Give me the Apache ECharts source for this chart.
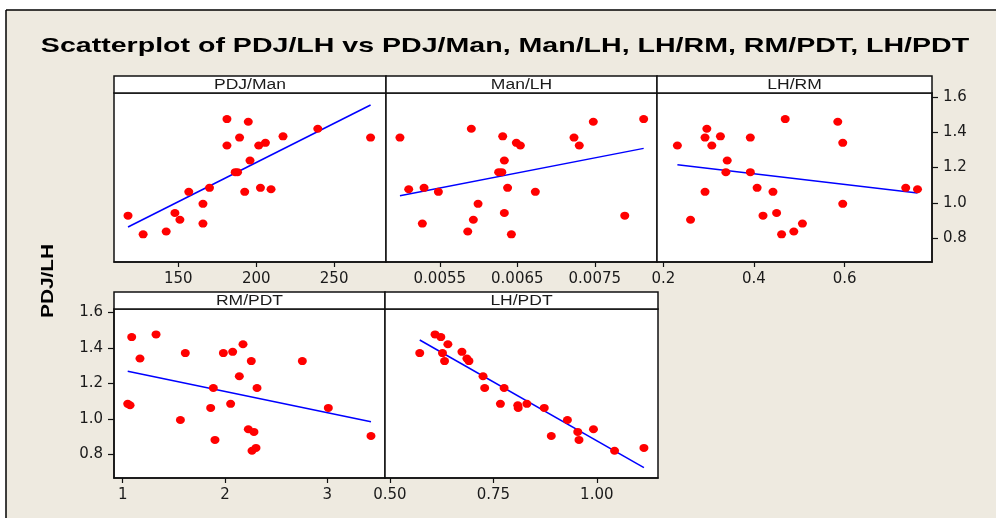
<!DOCTYPE html>
<html>
<head>
<meta charset="utf-8">
<script src="https://cdn.jsdelivr.net/npm/echarts@6/dist/echarts.min.js"></script>
<style>
  html, body { margin: 0; padding: 0; background: #fff; }
  #main { width: 996px; height: 518px; }
</style>
</head>
<body>
<div id="main"></div>
<script>
// PDJ/LH (shared y) and the five predictors, one entry per observation
var pdjLh  = [1.475, 1.460, 1.420, 1.377, 1.370, 1.370, 1.340, 1.325, 1.325, 1.240, 1.174, 1.174,
              1.085, 1.085, 1.077, 1.062, 1.062, 0.994, 0.942, 0.927, 0.904, 0.882, 0.837, 0.821];
var pdjMan = [181.2, 194.9, 239.5, 217.2, 189.3, 273.4, 205.9, 181.2, 201.6, 196.0, 186.5, 188.0,
              170.0, 202.7, 209.5, 156.7, 192.6, 165.8, 147.8, 117.7, 151.0, 165.8, 142.2, 127.4];
var manLh  = [0.008131, 0.007481, 0.005907, 0.006312, 0.004986, 0.007232, 0.006488, 0.006540, 0.007300, 0.006333, 0.006260, 0.006300,
              0.005297, 0.006375, 0.005099, 0.005482, 0.006733, 0.005994, 0.006333, 0.007887, 0.005933, 0.005275, 0.005861, 0.006424];
var lhRm   = [0.469, 0.585, 0.296, 0.326, 0.292, 0.392, 0.596, 0.231, 0.307, 0.341, 0.338, 0.392,
              0.407, 0.735, 0.761, 0.292, 0.442, 0.596, 0.450, 0.420, 0.260, 0.507, 0.488, 0.461];
var rmPdt  = [1.326, 1.088, 2.176, 2.075, 1.612, 1.984, 1.169, 2.257, 2.756, 2.140, 1.886, 2.313,
              1.049, 2.055, 1.072, 1.860, 3.010, 1.564, 2.228, 2.283, 3.427, 1.902, 2.303, 2.264];
var lhPdt  = [0.609, 0.623, 0.640, 0.674, 0.572, 0.627, 0.686, 0.691, 0.632, 0.725, 0.729, 0.776,
              0.767, 0.831, 0.809, 0.810, 0.873, 0.929, 0.992, 0.954, 0.890, 0.957, 1.114, 1.043];

var panelNames = ['PDJ/Man', 'Man/LH', 'LH/RM', 'RM/PDT', 'LH/PDT'];
var panelX = [pdjMan, manLh, lhRm, rmPdt, lhPdt];
var xTicks = [[150, 200, 250], [0.0055, 0.0065, 0.0075], [0.2, 0.4, 0.6], [1, 2, 3], [0.5, 0.75, 1.0]];
var xDecimals = [0, 4, 1, 0, 2];
var yTicks = [0.8, 1.0, 1.2, 1.4, 1.6];

// axis extents of each panel
var xRanges = [[108.7, 283.3], [0.004806, 0.008303], [0.186, 0.793], [0.915, 3.564], [0.488, 1.148]];
var yRanges = [[0.664, 1.623], [0.664, 1.623], [0.664, 1.623], [0.668, 1.618], [0.668, 1.618]];

// panel boxes (plot area, header strip sits above)
var boxes = [
    { left: 114, top: 93,  width: 272, height: 169 },
    { left: 386, top: 93,  width: 271, height: 169 },
    { left: 657, top: 93,  width: 275, height: 169 },
    { left: 114, top: 309, width: 271, height: 169 },
    { left: 385, top: 309, width: 273, height: 169 }
];
var headerH = 17;

var labelFont = { color: '#1a1a1a', fontFamily: 'DejaVu Sans', fontSize: 15 };

function fitLine(xs, ys) {
    var n = xs.length, sx = 0, sy = 0, sxx = 0, sxy = 0;
    for (var i = 0; i < n; i++) {
        sx += xs[i]; sy += ys[i]; sxx += xs[i] * xs[i]; sxy += xs[i] * ys[i];
    }
    var b = (n * sxy - sx * sy) / (n * sxx - sx * sx);
    var a = (sy - b * sx) / n;
    var lo = Math.min.apply(null, xs), hi = Math.max.apply(null, xs);
    return [[lo, a + b * lo], [hi, a + b * hi]];
}

var grids = [], xAxes = [], yAxes = [], series = [];
var graphics = [
    // white margin and frame of the beige plot window
    { type: 'rect', shape: { x: 0, y: 0, width: 996, height: 10 }, style: { fill: '#fff' } },
    { type: 'rect', shape: { x: 0, y: 0, width: 6, height: 518 }, style: { fill: '#fff' } },
    { type: 'line', shape: { x1: 6, y1: 10, x2: 996, y2: 10 }, style: { stroke: '#000', lineWidth: 1.5 } },
    { type: 'line', shape: { x1: 6, y1: 10, x2: 6, y2: 518 }, style: { stroke: '#000', lineWidth: 1.5 } },
    {
        type: 'text', x: 505, y: 46, scaleX: 1.36,
        style: {
            text: 'Scatterplot of PDJ/LH vs PDJ/Man, Man/LH, LH/RM, RM/PDT, LH/PDT',
            font: 'bold 21px "Liberation Sans"', fill: '#000',
            textAlign: 'center', textVerticalAlign: 'middle'
        }
    },
    {
        type: 'text', x: 49, y: 281, rotation: Math.PI / 2, scaleX: 1.3,
        style: {
            text: 'PDJ/LH', font: 'bold 16px "Liberation Sans"', fill: '#000',
            textAlign: 'center', textVerticalAlign: 'middle'
        }
    }
];

for (var p = 0; p < 5; p++) {
    var bx = boxes[p];
    grids.push({
        left: bx.left, top: bx.top, width: bx.width, height: bx.height,
        show: true, backgroundColor: '#fff', borderColor: '#111', borderWidth: 1.5
    });
    (function (dec) {
        xAxes.push({
            type: 'value', gridIndex: p, position: 'bottom',
            min: xRanges[p][0], max: xRanges[p][1],
            axisLine: { show: true, onZero: false, lineStyle: { color: '#111', width: 1.5 } },
            axisTick: { show: true, inside: false, length: 5, customValues: xTicks[p], lineStyle: { color: '#111', width: 1.2 } },
            axisLabel: Object.assign({ show: true, margin: 10, customValues: xTicks[p],
                formatter: function (v) { return Number(v).toFixed(dec); } }, labelFont),
            splitLine: { show: false }
        });
    })(xDecimals[p]);

    var showY = (p === 2 || p === 3);
    yAxes.push({
        type: 'value', gridIndex: p, position: p === 2 ? 'right' : 'left',
        min: yRanges[p][0], max: yRanges[p][1],
        axisLine: { show: showY, onZero: false, lineStyle: { color: '#111', width: 1.5 } },
        axisTick: { show: showY, inside: false, length: 6, customValues: yTicks, lineStyle: { color: '#111', width: 1.2 } },
        axisLabel: Object.assign({ show: showY, margin: 11, customValues: yTicks,
            formatter: function (v) { return Number(v).toFixed(1); } }, labelFont),
        splitLine: { show: false }
    });

    var pts = [];
    for (var i = 0; i < pdjLh.length; i++) pts.push([panelX[p][i], pdjLh[i]]);
    series.push({
        type: 'line', xAxisIndex: p, yAxisIndex: p,
        data: fitLine(panelX[p], pdjLh), showSymbol: false, silent: true,
        lineStyle: { color: '#0000ff', width: 1.5 }, z: 2
    });
    series.push({
        type: 'scatter', xAxisIndex: p, yAxisIndex: p, data: pts,
        symbol: 'circle', symbolSize: [9, 8], silent: true,
        itemStyle: { color: '#ff0000', opacity: 1 }, z: 3
    });

    // header strip with the predictor name
    graphics.push({
        type: 'rect', shape: { x: bx.left, y: bx.top - headerH, width: bx.width, height: headerH },
        style: { fill: '#fff', stroke: '#111', lineWidth: 1.5 }
    });
    graphics.push({
        type: 'text', x: bx.left + bx.width / 2, y: bx.top - headerH / 2 + 0.5, scaleX: 1.25,
        style: {
            text: panelNames[p], font: '14px "Liberation Sans"', fill: '#1a1a1a',
            textAlign: 'center', textVerticalAlign: 'middle'
        }
    });
}

var myChart = echarts.init(document.getElementById('main'));
var option = {
    backgroundColor: '#eeeae0',
    animation: false,
    grid: grids,
    xAxis: xAxes,
    yAxis: yAxes,
    series: series,
    graphic: { elements: graphics }
};
myChart.setOption(option);
</script>
</body>
</html>
